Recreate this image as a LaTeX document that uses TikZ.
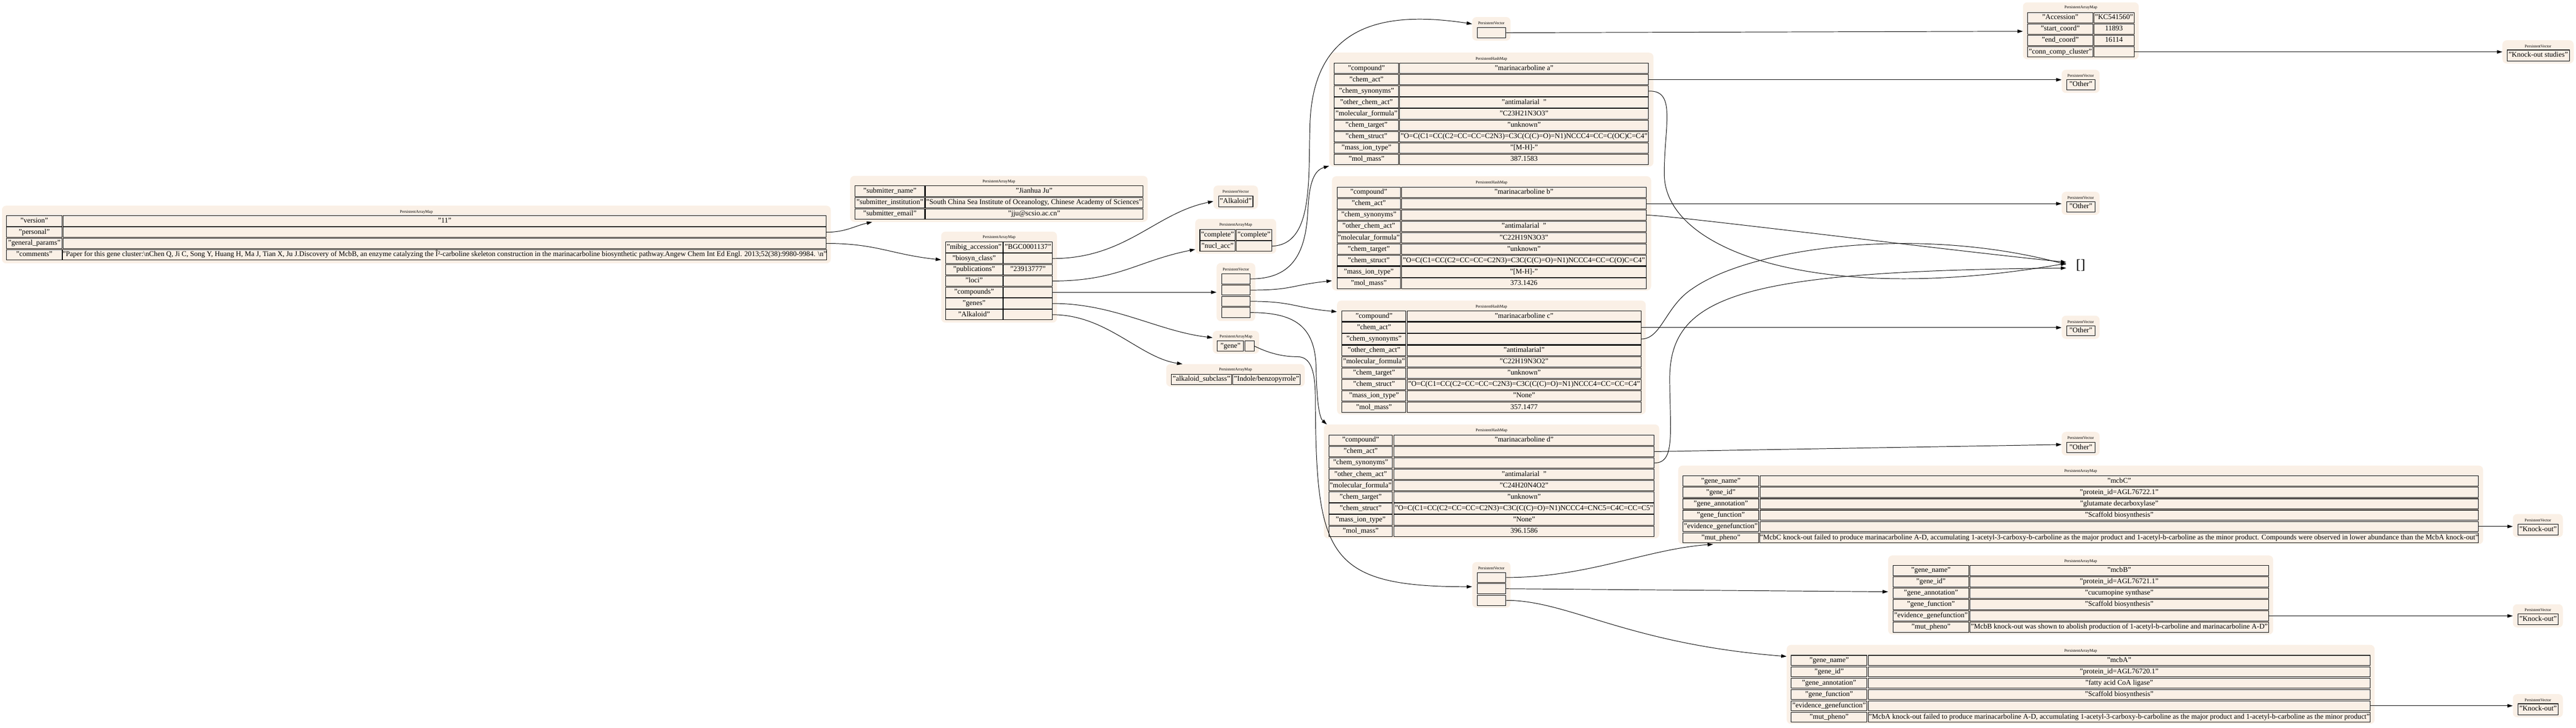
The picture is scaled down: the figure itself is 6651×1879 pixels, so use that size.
\documentclass[tikz,border=0pt]{standalone}
\usepackage{fontspec}
\setmainfont{Liberation Serif}
\usetikzlibrary{arrows.meta,calc}
\definecolor{linen}{RGB}{250,240,230}
\newcommand{\cellfnt}{\fontsize{18.7}{22}\selectfont}
\newcommand{\ttlfnt}{\fontsize{10.5}{12}\selectfont}
\tikzset{
  clusbox/.style={draw=none,fill=linen,rounded corners=11pt,inner sep=0pt},
  ttl/.style={font=\ttlfnt,inner sep=0pt},
  cellbox/.style={draw=black,line width=1.4pt,fill=linen,inner sep=0pt,font=\cellfnt,text height=13pt,text depth=4pt},
  arr/.style={-{Triangle[length=14pt,width=9pt]},line width=1.3pt,black},
}
\newcommand{\tclus}[7]{%
  \node[clusbox,minimum width={(#4-#2)*1pt},minimum height={(#5-#3)*1pt}] (#1) at ({(#2+#4)/2},{(#3+#5)/2}) {};
  \node[ttl] (#1-t) at ({(#2+#4)/2},#6) {#7};}
\newcommand{\tcel}[6]{%
  \node[cellbox,minimum width={(#4-#2)*1pt},minimum height={(#5-#3)*1pt}] (#1) at ({(#2+#4)/2},{(#3+#5)/2}) {#6};}
\newcommand{\tsetcols}[7]{\def\kxa{#1}\def\kxb{#2}\def\vxa{#3}\def\vxb{#4}\def\ytop{#5}\def\pitch{#6}\def\rh{#7}}
\newcommand{\tkv}[4]{%
  \node[cellbox,minimum width={(\kxb-\kxa)*1pt},minimum height={\rh*1pt}] (#1k) at ({(\kxa+\kxb)/2},{\ytop+#2*\pitch+\rh/2}) {#3};
  \node[cellbox,minimum width={(\vxb-\vxa)*1pt},minimum height={\rh*1pt}] (#1v) at ({(\vxa+\vxb)/2},{\ytop+#2*\pitch+\rh/2}) {#4};}
\begin{document}
\begin{tikzpicture}[x=1pt,y=-1pt]
\useasboundingbox (0,0) rectangle (6651,1879);
% ---------- root
\tclus{root}{5}{531}{2145}{680}{548}{PersistentArrayMap}
\tsetcols{17}{160}{163}{2133}{557}{29}{27}
\tkv{r1}{0}{"version"}{"11"}
\tkv{r2}{1}{"personal"}{}
\tkv{r3}{2}{"general\_params"}{}
\tkv{r4}{3}{"comments"}{"Paper for this gene cluster:\textbackslash nChen Q, Ji C, Song Y, Huang H, Ma J, Tian X, Ju J.Discovery of McbB, an enzyme catalyzing the Î²-carboline skeleton construction in the marinacarboline biosynthetic pathway.Angew Chem Int Ed Engl. 2013;52(38):9980-9984. \textbackslash n"}
% ---------- submitter
\tclus{sub}{2195}{454}{2963}{573}{469}{PersistentArrayMap}
\tsetcols{2208}{2387}{2389}{2951}{480}{29.5}{27}
\tkv{s1}{0}{"submitter\_name"}{"Jianhua Ju"}
\tkv{s2}{1}{"submitter\_institution"}{"South China Sea Institute of Oceanology, Chinese Academy of Sciences"}
\tkv{s3}{2}{"submitter\_email"}{"jju@scsio.ac.cn"}
% ---------- mibig
\tclus{mib}{2430}{598}{2729}{833}{613}{PersistentArrayMap}
\tsetcols{2441}{2589}{2591}{2717}{625}{29}{27}
\tkv{m1}{0}{"mibig\_accession"}{"BGC0001137"}
\tkv{m2}{1}{"biosyn\_class"}{}
\tkv{m3}{2}{"publications"}{"23913777"}
\tkv{m4}{3}{"loci"}{}
\tkv{m5}{4}{"compounds"}{}
\tkv{m6}{5}{"genes"}{}
\tkv{m7}{6}{"Alkaloid"}{}
% ---------- Alkaloid vector
\tclus{alk}{3133}{479}{3248}{540}{495}{PersistentVector}
\tcel{alkc}{3146}{506}{3235}{534}{"Alkaloid"}
% ---------- complete
\tclus{cpl}{3086}{565}{3295}{655}{581}{PersistentArrayMap}
\tsetcols{3098}{3189}{3192}{3283}{593}{29}{27}
\tkv{cp1}{0}{"complete"}{"complete"}
\tkv{cp2}{1}{"nucl\_acc"}{}
% ---------- compounds vector
\tclus{cv}{3141}{679}{3241}{829}{696}{PersistentVector}
\tcel{cv1}{3154}{707}{3228}{733}{}
\tcel{cv2}{3154}{736}{3228}{762}{}
\tcel{cv3}{3154}{765}{3228}{791}{}
\tcel{cv4}{3154}{794}{3228}{820}{}
% ---------- gene
\tclus{gn}{3131}{854}{3251}{913}{869}{PersistentArrayMap}
\tsetcols{3143}{3211}{3215}{3238}{880}{29}{27}
\tkv{gn1}{0}{"gene"}{}
% ---------- alkaloid subclass
\tclus{asub}{3011}{940}{3369}{998}{955}{PersistentArrayMap}
\tsetcols{3024}{3180}{3183}{3357}{966}{29}{27}
\tkv{as1}{0}{"alkaloid\_subclass"}{"Indole/benzopyrrole"}
% ---------- top vector
\tclus{tv}{3801}{44}{3900}{105}{60}{PersistentVector}
\tcel{tv1}{3814}{71}{3888}{98}{}
% ---------- compound a
\tclus{ca}{3432}{136}{4269}{430}{152}{PersistentHashMap}
\tsetcols{3445}{3611}{3614}{4256}{163}{29.4}{27}
\tkv{ca1}{0}{"compound"}{"marinacarboline a"}
\tkv{ca2}{1}{"chem\_act"}{}
\tkv{ca3}{2}{"chem\_synonyms"}{}
\tkv{ca4}{3}{"other\_chem\_act"}{"antimalarial\ \ "}
\tkv{ca5}{4}{"molecular\_formula"}{"C23H21N3O3"}
\tkv{ca6}{5}{"chem\_target"}{"unknown"}
\tkv{ca7}{6}{"chem\_struct"}{"O=C(C1=CC(C2=CC=CC=C2N3)=C3C(C(C)=O)=N1)NCCC4=CC=C(OC)C=C4"}
\tkv{ca8}{7}{"mass\_ion\_type"}{"[M-H]-"}
\tkv{ca9}{8}{"mol\_mass"}{387.1583}
% ---------- compound b
\tclus{cb}{3439}{455}{4263}{750}{472}{PersistentHashMap}
\tsetcols{3452}{3616}{3619}{4250}{483}{29.4}{27}
\tkv{cb1}{0}{"compound"}{"marinacarboline b"}
\tkv{cb2}{1}{"chem\_act"}{}
\tkv{cb3}{2}{"chem\_synonyms"}{}
\tkv{cb4}{3}{"other\_chem\_act"}{"antimalarial\ \ "}
\tkv{cb5}{4}{"molecular\_formula"}{"C22H19N3O3"}
\tkv{cb6}{5}{"chem\_target"}{"unknown"}
\tkv{cb7}{6}{"chem\_struct"}{"O=C(C1=CC(C2=CC=CC=C2N3)=C3C(C(C)=O)=N1)NCCC4=CC=C(O)C=C4"}
\tkv{cb8}{7}{"mass\_ion\_type"}{"[M-H]-"}
\tkv{cb9}{8}{"mol\_mass"}{373.1426}
% ---------- compound c
\tclus{cc}{3452}{776}{4249}{1070}{792}{PersistentHashMap}
\tsetcols{3465}{3630}{3633}{4237}{803}{29.4}{27}
\tkv{cc1}{0}{"compound"}{"marinacarboline c"}
\tkv{cc2}{1}{"chem\_act"}{}
\tkv{cc3}{2}{"chem\_synonyms"}{}
\tkv{cc4}{3}{"other\_chem\_act"}{"antimalarial"}
\tkv{cc5}{4}{"molecular\_formula"}{"C22H19N3O2"}
\tkv{cc6}{5}{"chem\_target"}{"unknown"}
\tkv{cc7}{6}{"chem\_struct"}{"O=C(C1=CC(C2=CC=CC=C2N3)=C3C(C(C)=O)=N1)NCCC4=CC=CC=C4"}
\tkv{cc8}{7}{"mass\_ion\_type"}{"None"}
\tkv{cc9}{8}{"mol\_mass"}{357.1477}
% ---------- compound d
\tclus{cd}{3418}{1096}{4284}{1390}{1112}{PersistentHashMap}
\tsetcols{3431}{3595}{3599}{4271}{1123}{29.4}{27}
\tkv{cd1}{0}{"compound"}{"marinacarboline d"}
\tkv{cd2}{1}{"chem\_act"}{}
\tkv{cd3}{2}{"chem\_synonyms"}{}
\tkv{cd4}{3}{"other\_chem\_act"}{"antimalarial\ \ "}
\tkv{cd5}{4}{"molecular\_formula"}{"C24H20N4O2"}
\tkv{cd6}{5}{"chem\_target"}{"unknown"}
\tkv{cd7}{6}{"chem\_struct"}{"O=C(C1=CC(C2=CC=CC=C2N3)=C3C(C(C)=O)=N1)NCCC4=CNC5=C4C=CC=C5"}
\tkv{cd8}{7}{"mass\_ion\_type"}{"None"}
\tkv{cd9}{8}{"mol\_mass"}{396.1586}
% ---------- accession
\tclus{acc}{5223}{6}{5522}{153}{20}{PersistentArrayMap}
\tsetcols{5235}{5404}{5406}{5510}{32}{29.5}{27}
\tkv{a1}{0}{"Accession"}{"KC541560"}
\tkv{a2}{1}{"start\_coord"}{11893}
\tkv{a3}{2}{"end\_coord"}{16114}
\tkv{a4}{3}{"conn\_comp\_cluster"}{}
% ---------- Other vectors
\tclus{o1}{5323}{180}{5421}{240}{195}{PersistentVector}
\tcel{o1c}{5336}{205}{5409}{232}{"Other"}
\tclus{o2}{5323}{495}{5421}{555}{511}{PersistentVector}
\tcel{o2c}{5336}{521}{5409}{547}{"Other"}
\tclus{o3}{5323}{815}{5421}{875}{831}{PersistentVector}
\tcel{o3c}{5336}{841}{5409}{867}{"Other"}
\tclus{o4}{5323}{1115}{5421}{1176}{1131}{PersistentVector}
\tcel{o4c}{5336}{1142}{5409}{1169}{"Other"}
% ---------- empty
\node[font=\fontsize{36}{40}\selectfont,inner sep=0pt,minimum width=74pt,minimum height=40pt] (emp) at (5372,685) {[]};
% ---------- bottom vector
\tclus{bv}{3801}{1451}{3900}{1569}{1467}{PersistentVector}
\tcel{bv1}{3814}{1478}{3888}{1504}{}
\tcel{bv2}{3814}{1507}{3888}{1533}{}
\tcel{bv3}{3814}{1537}{3888}{1563}{}
% ---------- mcbC
\tclus{mc}{4333}{1202}{6411}{1405}{1217}{PersistentArrayMap}
\tsetcols{4345}{4541}{4544}{6399}{1229}{29.3}{26}
\tkv{mc1}{0}{"gene\_name"}{"mcbC"}
\tkv{mc2}{1}{"gene\_id"}{"protein\_id=AGL76722.1"}
\tkv{mc3}{2}{"gene\_annotation"}{"glutamate decarboxylase"}
\tkv{mc4}{3}{"gene\_function"}{"Scaffold biosynthesis"}
\tkv{mc5}{4}{"evidence\_genefunction"}{}
\tkv{mc6}{5}{"mut\_pheno"}{"McbC knock-out failed to produce marinacarboline A-D, accumulating 1-acetyl-3-carboxy-b-carboline as the major product and 1-acetyl-b-carboline as the minor product. Compounds were observed in lower abundance than the McbA knock-out"}
% ---------- mcbB
\tclus{mb}{4875}{1434}{5869}{1638}{1449}{PersistentArrayMap}
\tsetcols{4888}{5083}{5086}{5857}{1460}{29.3}{26}
\tkv{mb1}{0}{"gene\_name"}{"mcbB"}
\tkv{mb2}{1}{"gene\_id"}{"protein\_id=AGL76721.1"}
\tkv{mb3}{2}{"gene\_annotation"}{"cucumopine synthase"}
\tkv{mb4}{3}{"gene\_function"}{"Scaffold biosynthesis"}
\tkv{mb5}{4}{"evidence\_genefunction"}{}
\tkv{mb6}{5}{"mut\_pheno"}{"McbB knock-out was shown to abolish production of 1-acetyl-b-carboline and marinacarboline A-D"}
% ---------- mcbA
\tclus{ma}{4613}{1665}{6131}{1869}{1681}{PersistentArrayMap}
\tsetcols{4625}{4820}{4824}{6119}{1692}{29.3}{26}
\tkv{ma1}{0}{"gene\_name"}{"mcbA"}
\tkv{ma2}{1}{"gene\_id"}{"protein\_id=AGL76720.1"}
\tkv{ma3}{2}{"gene\_annotation"}{"fatty acid CoA ligase"}
\tkv{ma4}{3}{"gene\_function"}{"Scaffold biosynthesis"}
\tkv{ma5}{4}{"evidence\_genefunction"}{}
\tkv{ma6}{5}{"mut\_pheno"}{"McbA knock-out failed to produce marinacarboline A-D, accumulating 1-acetyl-3-carboxy-b-carboline as the major product and 1-acetyl-b-carboline as the minor product"}
% ---------- Knock-out vectors
\tclus{kos}{6461}{104}{6645}{164}{119}{PersistentVector}
\tcel{kosc}{6473}{129}{6634}{157}{"Knock-out studies"}
\tclus{k1}{6488}{1327}{6617}{1387}{1343}{PersistentVector}
\tcel{k1c}{6501}{1354}{6605}{1381}{"Knock-out"}
\tclus{k2}{6488}{1560}{6617}{1620}{1575}{PersistentVector}
\tcel{k2c}{6501}{1585}{6605}{1613}{"Knock-out"}
\tclus{k3}{6488}{1792}{6617}{1852}{1808}{PersistentVector}
\tcel{k3c}{6501}{1817}{6605}{1845}{"Knock-out"}
% ================= edges
\draw[arr] (r2v.east) .. controls +(50,0) and +(-45,10) .. ($(sub.south west)+(57,0)$);
\draw[arr] (r3v.east) .. controls +(130,0) and +(-130,-14) .. ($(mib.north west)+(0,73)$);
\draw[arr] (m2v.east) .. controls +(190,0) and +(-150,30) .. ($(alk.north west)+(0,41)$);
\draw[arr] (m4v.east) .. controls +(170,0) and +(-150,30) .. ($(cpl.north west)+(0,79)$);
\draw[arr] (m5v.east) -- (cv.west |- m5v.east);
\draw[arr] (m6v.east) .. controls +(160,0) and +(-140,-16) .. ($(gn.north west)+(0,18)$);
\draw[arr] (m7v.east) .. controls +(140,0) and +(-110,-16) .. ($(asub.north west)+(42,0)$);
\draw[arr] (cp2v.east) .. controls (3390,632) and (3378,470) .. (3382,330) .. controls (3386,70) and (3560,25) .. ($(tv.north west)+(0,18)$);
\draw[arr] (cv1.east) .. controls (3340,720) and (3372,650) .. (3377,540) .. controls (3381,455) and (3400,438) .. ($(ca.south west)+(0,-2)$);
\draw[arr] (cv2.east) .. controls +(110,0) and +(-110,12) .. ($(cb.north west)+(0,270)$);
\draw[arr] (cv3.east) .. controls +(110,0) and +(-110,-10) .. ($(cc.north west)+(0,29)$);
\draw[arr] (cv4.east) .. controls (3340,807) and (3396,840) .. (3398,950) .. controls (3400,1050) and (3408,1080) .. ($(cd.north west)+(8,0)$);
\draw[arr] (gn1v.east) .. controls (3262,905) and (3300,921) .. (3350,921) .. controls (3385,921) and (3395,960) .. (3396,1020) .. controls (3398,1430) and (3420,1515) .. ($(bv.north west)+(0,64)$);
\draw[arr] (tv1.east) -- ($(acc.north west)+(0,75)$);
\draw[arr] (a4v.east) -- (kos.west |- a4v.east);
\draw[arr] (ca2v.east) -- (o1.west |- ca2v.east);
\draw[arr] (cb2v.east) -- (o2.west |- cb2v.east);
\draw[arr] (cc2v.east) -- (o3.west |- cc2v.east);
\draw[arr] (cd2v.east) -- ($(o4.north west)+(0,33)$);
\draw[arr] (ca3v.east) .. controls (4330,232) and (4296,330) .. (4297,450) .. controls (4298,650) and (4700,790) .. ($(emp.west)+(0,-5)$);
\draw[arr] (cb3v.east) .. controls +(60,0) and +(-300,-30) .. ($(emp.west)+(0,-8)$);
\draw[arr] (cc3v.east) .. controls (4290,875) and (4300,790) .. (4370,745) .. controls (4520,640) and (4950,580) .. ($(emp.west)+(0,-2)$);
\draw[arr] (cd3v.east) .. controls (4325,1195) and (4312,1120) .. (4311,980) .. controls (4310,760) and (4500,700) .. ($(emp.west)+(0,7)$);
\draw[arr] (bv1.east) .. controls (4100,1491) and (4250,1418) .. ($(mc.south west)+(90,0)$);
\draw[arr] (bv2.east) -- ($(mb.north west)+(0,94)$);
\draw[arr] (bv3.east) .. controls (4050,1550) and (4200,1662) .. ($(ma.north west)+(0,30)$);
\draw[arr] (mc5v.east) -- (k1.west |- mc5v.east);
\draw[arr] (mb5v.east) -- (k2.west |- mb5v.east);
\draw[arr] (ma5v.east) -- (k3.west |- ma5v.east);
\end{tikzpicture}
\end{document}
